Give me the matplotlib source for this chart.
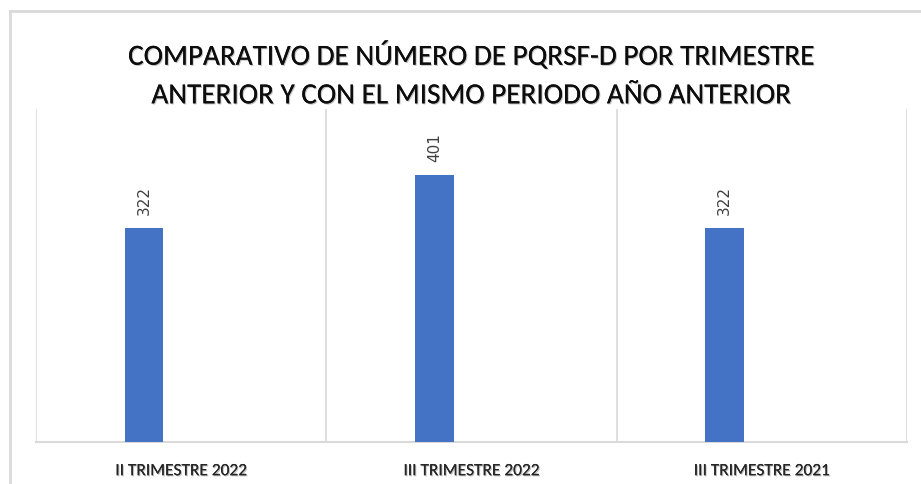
import numpy as np
import matplotlib.pyplot as plt
import matplotlib.patheffects as pe
from matplotlib.lines import Line2D

# Datos del gráfico
categorias = ['II TRIMESTRE 2022', 'III TRIMESTRE 2022', 'III TRIMESTRE 2021']
valores = [322, 401, 322]
titulo = 'COMPARATIVO DE NÚMERO DE PQRSF-D POR TRIMESTRE\nANTERIOR Y CON EL MISMO PERIODO AÑO ANTERIOR'

fuente_narrow = ['Carlito', 'Archivo Narrow', 'DejaVu Sans']
gris = '#d9d9d9'
sombra = [pe.withSimplePatchShadow(offset=(0.8, -0.8), shadow_rgbFace='#000000', alpha=0.25), pe.Normal()]

fig = plt.figure(figsize=(9.21, 4.85), dpi=100)
ax = fig.add_axes([36 / 921, 1 - 443 / 485, (907 - 36) / 921, (443 - 110) / 485])

x = np.arange(len(categorias))
ancho = 0.134
barras = ax.bar(x - 0.128, valores, width=ancho, color='#4472c4', zorder=3)

for b, v in zip(barras, valores):
    ax.annotate(str(v), (b.get_x() + b.get_width() / 2, v), xytext=(0, 10),
                textcoords='offset points', rotation=90, ha='center', va='bottom',
                fontsize=11, color='#404040')

ax.set_xlim(-0.5, 2.5)
ax.set_ylim(0, 500)
ax.set_yticks([])
ax.set_xticks(x)
ax.set_xticklabels(categorias, fontsize=12.5, family=fuente_narrow, color='#262626')
for t in ax.get_xticklabels():
    t.set_path_effects(sombra)
ax.tick_params(axis='x', length=0, pad=16)
ax.set_xticks([-0.5, 0.5, 1.5, 2.5], minor=True)
ax.tick_params(axis='x', which='minor', length=0)
ax.grid(axis='x', which='minor', color=gris, linewidth=1.2, zorder=0)

for lado in ['top', 'right', 'left']:
    ax.spines[lado].set_visible(False)
ax.spines['bottom'].set_color(gris)
ax.spines['bottom'].set_linewidth(1.5)

fig.text(471 / 921, 1 - 76 / 485, titulo, ha='center', va='center', fontsize=21,
         family=fuente_narrow, color='#0d0d0d', linespacing=1.68, path_effects=sombra)

# borde del área del gráfico (recortado a la derecha y abajo)
fig.add_artist(Line2D([10 / 921, 1.0], [1 - 12 / 485, 1 - 12 / 485], color=gris, linewidth=2))
fig.add_artist(Line2D([10 / 921, 10 / 921], [0.0, 1 - 12 / 485], color=gris, linewidth=2))

fig.savefig('out.png', dpi=100)
